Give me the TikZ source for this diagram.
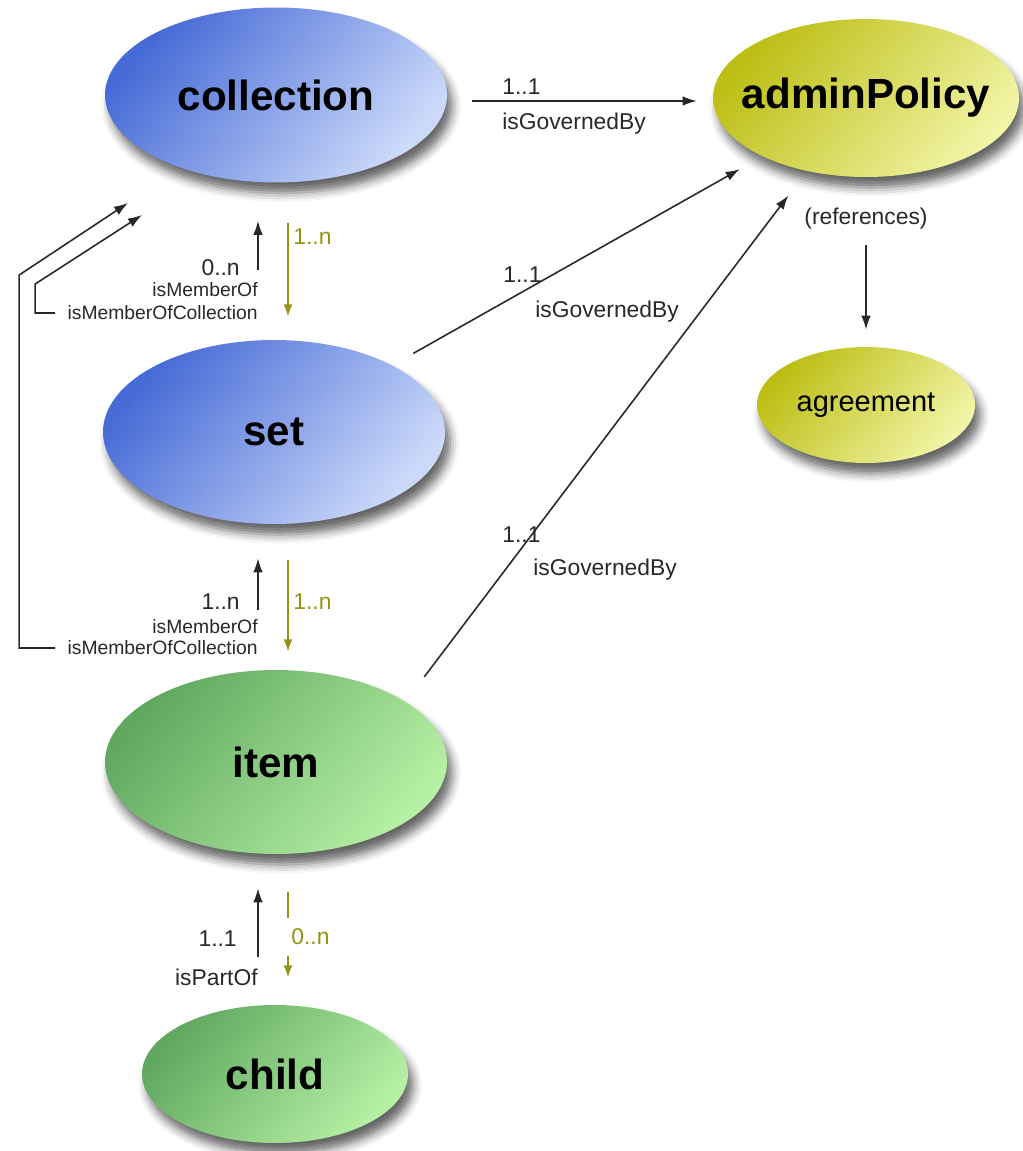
\documentclass[tikz,border=0pt]{standalone}
\usepackage{fontspec}
\setmainfont{Liberation Sans}
\usetikzlibrary{shapes.geometric,arrows.meta,shadows.blur}
\definecolor{blueD}{RGB}{70,106,214}
\definecolor{blueL}{RGB}{204,218,250}
\definecolor{greenD}{RGB}{96,168,96}
\definecolor{greenL}{RGB}{182,240,164}
\definecolor{yelD}{RGB}{188,190,20}
\definecolor{yelL}{RGB}{242,244,166}
\definecolor{linegray}{RGB}{40,40,40}
\definecolor{olivetxt}{RGB}{148,148,18}
\tikzset{
  entity/.style={shape=ellipse,inner sep=0pt,font=\fontsize{24}{28}\selectfont\bfseries,
    blur shadow={shadow xshift=3pt,shadow yshift=-6pt,shadow blur radius=5pt,shadow opacity=60}},
  bluefill/.style={top color=blueD,bottom color=blueL,shading angle=50},
  greenfill/.style={top color=greenD,bottom color=greenL,shading angle=50},
  yelfill/.style={top color=yelD,bottom color=yelL,shading angle=50},
  conn/.style={draw=linegray,line width=0.9pt,-{Latex[length=8pt,width=5.5pt]}},
  oconn/.style={draw=olivetxt,line width=0.9pt,-{Latex[length=7pt,width=5pt]}},
  numlbl/.style={inner sep=0pt,text=linegray,font=\fontsize{13}{15}\selectfont},
  rellbl/.style={inner sep=0pt,text=linegray,font=\fontsize{11}{13}\selectfont},
  olbl/.style={inner sep=0pt,text=olivetxt,font=\fontsize{13}{15}\selectfont}
}
\begin{document}
\begin{tikzpicture}[x=0.02cm,y=-0.02cm]
    \useasboundingbox (0,0) rectangle (1022,1151);
    \node[entity,bluefill,minimum width=6.84cm,minimum height=3.5cm] (coll) at (276,95) {collection};
    \node[entity,yelfill,minimum width=6.12cm,minimum height=3.16cm,inner xsep=-14pt] (admin) at (866,98) {adminPolicy};
    \node[entity,bluefill,minimum width=6.84cm,minimum height=3.68cm] (set) at (274,432) {set};
    \node[entity,yelfill,minimum width=4.36cm,minimum height=2.32cm,font=\fontsize{16.5}{19}\selectfont] (agree) at (866,405) {agreement};
    \node[entity,greenfill,minimum width=6.84cm,minimum height=3.68cm] (item) at (276,762) {item};
    \node[entity,greenfill,minimum width=5.32cm,minimum height=2.76cm] (child) at (275,1074) {child};

    \node[numlbl,anchor=west] (g1n) at (502,87) {1..1};
    \node[numlbl,anchor=west] (g1t) at (502,124) {isGovernedBy};
    \node[numlbl,anchor=west] (g2n) at (503,275) {1..1};
    \node[numlbl,anchor=west] (g2t) at (535,312) {isGovernedBy};
    \node[numlbl,anchor=west] (g3n) at (502,535) {1..1};
    \node[numlbl,anchor=west] (g3t) at (533,570) {isGovernedBy};
    \node[numlbl] (refs) at (866,219) {(references)};

    \node[numlbl,anchor=east] (n1) at (240,268) {0..n};
    \node[rellbl,anchor=east] (m1) at (258,290) {isMemberOf};
    \node[rellbl,anchor=east] (c1) at (258,313) {isMemberOfCollection};
    \node[olbl,anchor=west] (o1) at (293,237) {1..n};
    \node[numlbl,anchor=east] (n2) at (240,602) {1..n};
    \node[rellbl,anchor=east] (m2) at (258,627) {isMemberOf};
    \node[rellbl,anchor=east] (c2) at (258,648) {isMemberOfCollection};
    \node[olbl,anchor=west] (o2) at (293,602) {1..n};
    \node[numlbl,anchor=east] (n3) at (237,939) {1..1};
    \node[numlbl,anchor=east] (p3) at (258,977) {isPartOf};

    \coordinate (tipA) at (142,215);
    \coordinate (tipB) at (128,203);

    \path ([shift={(25,6)}]coll.east) edge[conn] ([shift={(-16,3)}]admin.west);
    \path (set) edge[conn,shorten <=0.48cm,shorten >=0.52cm] (admin);
    \path (item.25) edge[conn,shorten <=0.62cm,shorten >=0.61cm] (admin.231);
    \path (refs) edge[conn,shorten <=0.3cm,shorten >=0.34cm] (agree);

    \path ([shift={(-16,-70)}]set.north) edge[conn] ([shift={(-18,38)}]coll.south);
    \path ([shift={(12,40)}]coll.south) edge[oconn] ([shift={(14,-23)}]set.north);
    \path ([shift={(-18,-60)}]item.north) edge[conn] ([shift={(-16,34)}]set.south);
    \path ([shift={(14,36)}]set.south) edge[oconn] ([shift={(12,-18)}]item.north);
    \path ([shift={(-17,-48)}]child.north) edge[conn] ([shift={(-18,34)}]item.south);
    \path ([shift={(12,38)}]item.south) edge[oconn] ([shift={(13,-27)}]child.north);
    \node[olbl,anchor=west,fill=white,inner xsep=0.1cm,inner ysep=6pt] (o3) at (286,937) {0..n};

    \draw [conn]([shift={(-12,0)}]c1.west) -| ++(-20,-29) -- (tipA);
    \draw [conn]([shift={(-12,0)}]c2.west) -| ++(-36,-373) -- (tipB);
\end{tikzpicture}
\end{document}
